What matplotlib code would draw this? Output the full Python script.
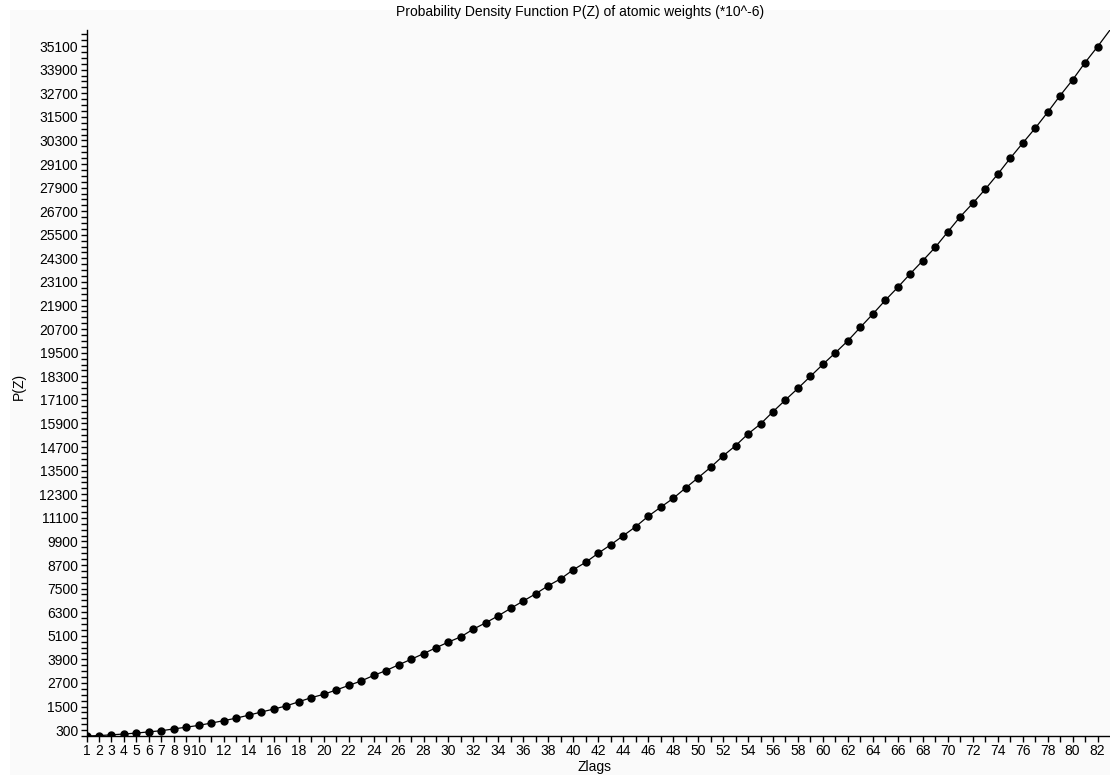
import matplotlib
matplotlib.use("Agg")
import matplotlib.pyplot as plt
from matplotlib.ticker import FixedLocator, MultipleLocator
from matplotlib.patches import Rectangle

# ---- data ----
zlags = list(range(1, 84))
pz = [0, 20, 60, 100, 150, 210, 270, 360, 450, 540,
      660, 780, 910, 1060, 1220, 1370, 1530, 1740, 1950, 2120,
      2340, 2570, 2800, 3080, 3330, 3620, 3900, 4190, 4490, 4780,
      5050, 5440, 5765, 6120, 6500, 6870, 7240, 7650, 8000, 8460,
      8840, 9300, 9730, 10190, 10650, 11180, 11640, 12090, 12620, 13140,
      13670, 14250, 14770, 15370, 15875, 16500, 17100, 17690, 18300, 18910,
      19500, 20110, 20795, 21470, 22170, 22830, 23520, 24185, 24865, 25645,
      26420, 27100, 27815, 28580, 29390, 30160, 30920, 31730, 32580, 33380,
      34260, 35070, 35920]

x_tick_values = list(range(1, 83))
x_tick_labels = [str(v) if (v <= 10 or v % 2 == 0) else "" for v in x_tick_values]
y_tick_values = list(range(300, 35101, 1200))
y_tick_labels = [str(v) for v in y_tick_values]

title = "Probability Density Function P(Z) of atomic weights (*10^-6)"
xlabel = "Zlags"
ylabel = "P(Z)"

# ---- figure ----
plt.rcParams['font.family'] = ['Liberation Sans', 'DejaVu Sans']
W, H = 1110, 775
FS = 10
fig = plt.figure(figsize=(W / 100, H / 100), dpi=100)
fig.patch.set_facecolor("white")
fig.patches.append(Rectangle((10 / W, 0.0), 1.0, 1 - 10 / H, transform=fig.transFigure,
                             facecolor="#fafafa", edgecolor="none", zorder=-10))

left, right, bottom, top = 86.5 / W, 1.0, (H - 736) / H, (H - 30) / H
ax = fig.add_axes([left, bottom, right - left, top - bottom])
ax.set_facecolor("none")

ax.plot(zlags, pz, color="black", linewidth=0.9, marker="o", markersize=5,
        markerfacecolor="black", markeredgecolor="black",
        markevery=list(range(len(zlags) - 1)))

ax.set_xlim(zlags[0], zlags[-1])
ax.set_ylim(pz[0], pz[-1])

for s in ("top", "right"):
    ax.spines[s].set_visible(False)
for s in ("left", "bottom"):
    ax.spines[s].set_color("black")
    ax.spines[s].set_linewidth(1.0)

ax.xaxis.set_major_locator(FixedLocator(x_tick_values))
ax.set_xticklabels(x_tick_labels)
ax.yaxis.set_major_locator(FixedLocator(y_tick_values))
ax.set_yticklabels(y_tick_labels)
ax.yaxis.set_minor_locator(MultipleLocator(300))

ax.tick_params(axis="both", which="major", direction="out", length=4.5, width=1,
               color="black", labelsize=FS, labelcolor="black", pad=1.5)
ax.tick_params(axis="y", which="minor", direction="out", length=4.5, width=1, color="black")

fig.text(580 / W, 1 - 12 / H, title, ha="center", va="center", fontsize=FS)
fig.text(594 / W, 1 - 767 / H, xlabel, ha="center", va="center", fontsize=FS)
fig.text(19 / W, 1 - 386 / H, ylabel, ha="center", va="center", fontsize=FS, rotation=90)

fig.savefig("out.png", dpi=100, facecolor=fig.get_facecolor())
